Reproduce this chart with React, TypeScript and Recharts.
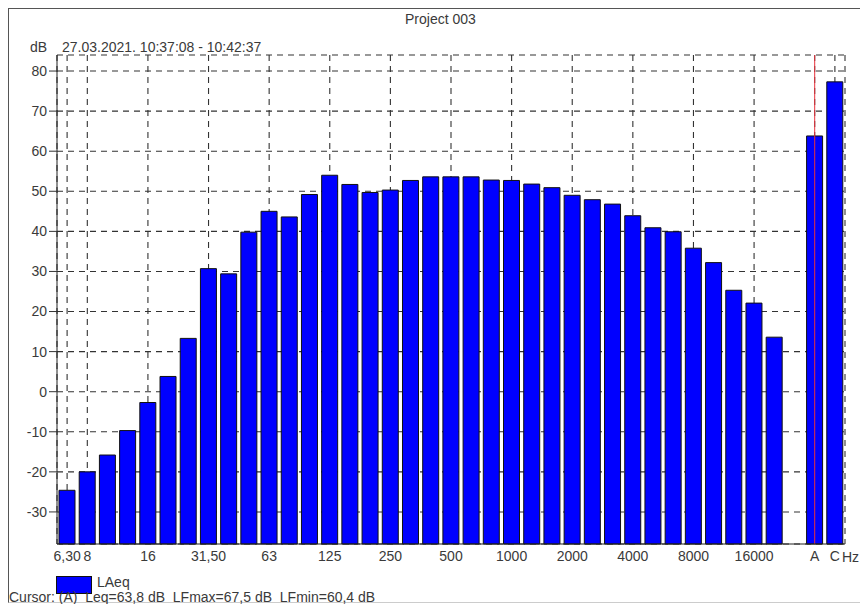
import {
  BarChart,
  Bar,
  XAxis,
  YAxis,
  CartesianGrid,
  ReferenceLine,
} from "recharts"

// third-octave bands 6.3 Hz .. 20 kHz, an empty slot, then A and C totals
const bands = [
  "6.3", "8", "10", "12.5", "16", "20", "25", "31.5", "40", "50",
  "63", "80", "100", "125", "160", "200", "250", "315", "400", "500",
  "630", "800", "1000", "1250", "1600", "2000", "2500", "3150", "4000", "5000",
  "6300", "8000", "10000", "12500", "16000", "20000", "gap", "A", "C",
]

const laeq = [
  -24.6, -20.0, -15.8, -9.7, -2.7, 3.8, 13.3, 30.7, 29.4, 39.8,
  45.0, 43.6, 49.2, 54.0, 51.7, 49.7, 50.3, 52.7, 53.6, 53.6,
  53.6, 52.8, 52.7, 51.8, 50.9, 49.0, 47.9, 46.8, 43.9, 40.9,
  39.9, 35.8, 32.2, 25.3, 22.1, 13.6, null, 63.8, 77.3,
]

const tickBands = ["6.3", "8", "16", "31.5", "63", "125", "250", "500", "1000", "2000", "4000", "8000", "16000", "A", "C"]
const tickLabels = ["6,30", "8", "16", "31,50", "63", "125", "250", "500", "1000", "2000", "4000", "8000", "16000", "A", "C"]

const yTicks = [-30, -20, -10, 0, 10, 20, 30, 40, 50, 60, 70, 80]
const yMin = -38
const yMax = 84

const data = bands.map((band, i) => ({
  band,
  laeq: laeq[i] === null ? null : [yMin, laeq[i]],
}))

const font = "'Liberation Sans', Arial, sans-serif"
const textColor = "#3a3a3a"

function App() {
  return (
    <div
      style={{
        position: "relative",
        width: 852,
        height: 596,
        fontFamily: font,
        fontSize: 14,
        color: textColor,
        whiteSpace: "nowrap",
      }}
    >
      <style>{`html{overflow:hidden}`}</style>

      <div
        style={{
          position: "absolute",
          left: 0,
          top: 0,
          width: 860,
          height: 593,
          borderTop: "1px solid #555",
          borderLeft: "1px solid #555",
          borderBottom: "1px solid #ccc",
        }}
      />

      <div style={{ position: "absolute", left: 397, top: 3, lineHeight: "16px" }}>
        Project 003
      </div>
      <div style={{ position: "absolute", left: 22, top: 31, lineHeight: "16px" }}>
        dB
      </div>
      <div style={{ position: "absolute", left: 54, top: 31, lineHeight: "16px" }}>
        27.03.2021. 10:37:08 - 10:42:37
      </div>

      <div style={{ position: "absolute", left: 0, top: 0 }}>
        <BarChart
          width={860}
          height={570}
          data={data}
          margin={{ top: 47, right: 23, bottom: 4, left: 9 }}
        >
          <CartesianGrid
            stroke="#333"
            strokeDasharray="6 5"
            strokeWidth={1.1}
          />
          <XAxis
            dataKey="band"
            ticks={tickBands}
            interval={0}
            tickFormatter={(v: string) => tickLabels[tickBands.indexOf(v)]}
            tickLine={false}
            tickSize={0}
            tickMargin={7}
            height={30}
            axisLine={{ stroke: "#222" }}
            tick={{ fill: textColor, fontSize: 14, fontFamily: font }}
          />
          <XAxis
            xAxisId="top"
            orientation="top"
            dataKey="band"
            tick={false}
            tickLine={false}
            height={0}
            axisLine={{ stroke: "#222" }}
          />
          <YAxis
            domain={[yMin, yMax]}
            ticks={yTicks}
            interval={0}
            width={40}
            tickSize={8}
            tickMargin={2}
            axisLine={{ stroke: "#222" }}
            tickLine={{ stroke: "#333" }}
            tick={{ fill: textColor, fontSize: 14, fontFamily: font }}
          />
          <YAxis
            yAxisId="right"
            orientation="right"
            domain={[yMin, yMax]}
            tick={false}
            tickLine={false}
            width={0}
            axisLine={{ stroke: "#222" }}
          />
          <Bar
            dataKey="laeq"
            name="LAeq"
            fill="#0000ff"
            stroke="#111"
            strokeWidth={1}
            barSize={16}
            isAnimationActive={false}
          />
          <ReferenceLine x="A" stroke="#e8323c" strokeWidth={1} />
        </BarChart>
      </div>

      <div
        style={{
          position: "absolute",
          left: 834,
          top: 541,
          width: 18,
          lineHeight: "16px",
        }}
      >
        Hz
      </div>

      <div
        style={{
          position: "absolute",
          left: 48,
          top: 568,
          width: 34,
          height: 16,
          background: "#0000ff",
          border: "1px solid #111",
        }}
      />
      <div style={{ position: "absolute", left: 89, top: 567, lineHeight: "14px" }}>
        LAeq
      </div>

      <div
        style={{
          position: "absolute",
          left: 1,
          top: 582,
          lineHeight: "14px",
          whiteSpace: "pre",
        }}
      >
        {"Cursor: (A)  Leq=63,8 dB  LFmax=67,5 dB  LFmin=60,4 dB"}
      </div>
    </div>
  )
}

export default App
